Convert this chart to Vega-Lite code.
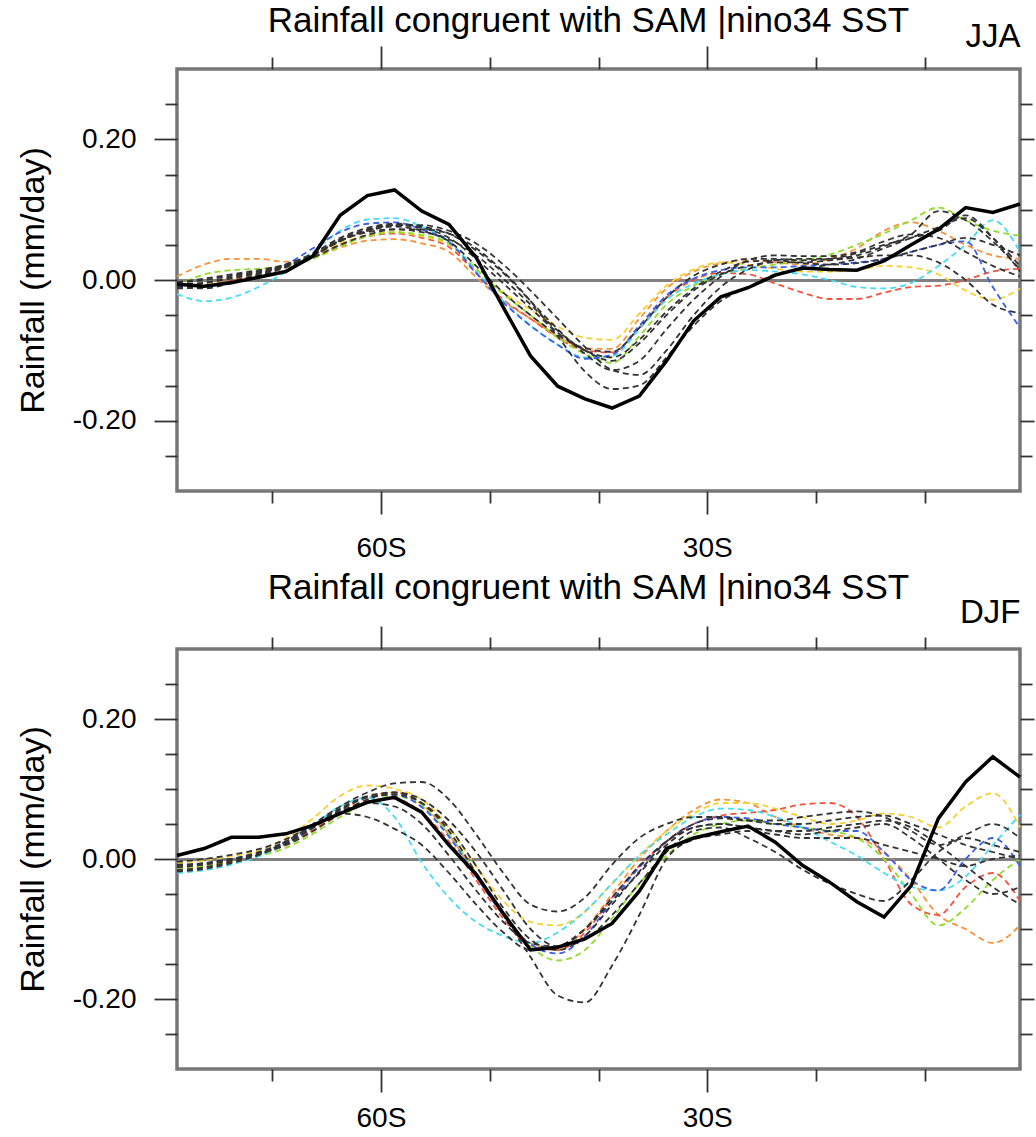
{
  "$schema": "https://vega.github.io/schema/vega-lite/v6.json",
  "padding": {"left": 14, "top": 2, "right": 0, "bottom": 0},
  "spacing": 5,
  "config": {
    "font": "Liberation Sans",
    "view": {"stroke": "#777777", "strokeWidth": 3.5},
    "axis": {"domain": false, "grid": false, "tickColor": "#333333", "tickWidth": 1.8, "labelColor": "#000000", "labelFontSize": 28, "labelFont": "Liberation Sans", "titleColor": "#000000", "titleFont": "Liberation Sans", "titleFontWeight": "normal", "labelOverlap": false, "labelFlush": false},
    "title": {"fontSize": 35, "fontWeight": "normal", "color": "#000000", "font": "Liberation Sans"},
    "line": {"clip": true}
  },
  "vconcat": [
    {
      "width": 843,
      "height": 422,
      "data": {"name": "jja"},
      "title": {"text": "Rainfall congruent with SAM |nino34 SST", "dx": -10, "offset": -19},
      "layer": [
        {
          "transform": [{"filter": "datum.model !== 'obs'"}],
          "mark": {"type": "line", "strokeWidth": 1.8, "strokeDash": [6, 4], "interpolate": "monotone"},
          "encoding": {
            "x": {"field": "lat", "type": "quantitative", "scale": {"domain": [-78.75, -1.25], "nice": false, "zero": false},
              "axis": {"orient": "bottom", "values": [-70, -60, -50, -40, -30, -20, -10], "title": null,
                "tickSize": {"condition": {"test": "datum.value % 30 === 0", "value": 23}, "value": 12},
                "labelExpr": "datum.value === -60 ? '60S' : datum.value === -30 ? '30S' : ''", "labelPadding": 20}},
            "y": {"field": "rain", "type": "quantitative", "scale": {"domain": [-0.3, 0.3], "nice": false, "zero": false},
              "axis": {"orient": "left", "values": [-0.25, -0.2, -0.15, -0.1, -0.05, 0, 0.05, 0.1, 0.15, 0.2, 0.25],
                "title": "Rainfall (mm/day)", "titleFontSize": 34, "titlePadding": 22,
                "tickSize": {"condition": {"test": "abs(round(datum.value * 100)) % 20 === 0", "value": 23}, "value": 12},
                "labelExpr": "abs(round(datum.value * 100)) % 20 === 0 ? (datum.value < -0.01 ? '-0.20' : datum.value > 0.01 ? '0.20' : '0.00') : ''",
                "labelPadding": 18,
                "grid": true, "gridColor": "#808080", "gridWidth": 3,
                "gridOpacity": {"condition": {"test": "abs(datum.value) < 0.001", "value": 1}, "value": 0}}},
            "color": {"field": "model", "type": "nominal", "legend": null,
              "scale": {"domain": ["o1", "r1", "y1", "g1", "c1", "b1", "k1", "k2", "k3", "k4", "k5", "k6"],
                "range": ["#f7923a", "#f4543e", "#f9cf2f", "#8fdc2a", "#46dcf5", "#3a5ef0", "#333333", "#333333", "#333333", "#333333", "#333333", "#333333"]}}
          }
        },
        {
          "transform": [{"filter": "datum.model === 'obs'"}],
          "mark": {"type": "line", "color": "#000000", "strokeWidth": 3.5},
          "encoding": {
            "x": {"field": "lat", "type": "quantitative",
              "axis": {"orient": "top", "values": [-70, -60, -50, -40, -30, -20, -10], "labels": false,
                "tickSize": {"condition": {"test": "datum.value % 30 === 0", "value": 23}, "value": 12},
                "title": "JJA", "titleFontSize": 33, "titleAnchor": "end", "titleAlign": "right", "titleBaseline": "alphabetic", "titleY": -23}},
            "y": {"field": "rain", "type": "quantitative",
              "axis": {"orient": "right", "values": [-0.25, -0.2, -0.15, -0.1, -0.05, 0, 0.05, 0.1, 0.15, 0.2, 0.25], "labels": false, "title": null,
                "tickSize": {"condition": {"test": "abs(round(datum.value * 100)) % 20 === 0", "value": 14}, "value": 12}}}
          }
        }
      ],
      "resolve": {"axis": {"x": "independent", "y": "independent"}}
    },
    {
      "width": 843,
      "height": 420,
      "data": {"name": "djf"},
      "title": {"text": "Rainfall congruent with SAM |nino34 SST", "dx": -10, "offset": -10},
      "layer": [
        {
          "transform": [{"filter": "datum.model !== 'obs'"}],
          "mark": {"type": "line", "strokeWidth": 1.8, "strokeDash": [6, 4], "interpolate": "monotone"},
          "encoding": {
            "x": {"field": "lat", "type": "quantitative", "scale": {"domain": [-78.75, -1.25], "nice": false, "zero": false},
              "axis": {"orient": "bottom", "values": [-70, -60, -50, -40, -30, -20, -10], "title": null,
                "tickSize": {"condition": {"test": "datum.value % 30 === 0", "value": 23}, "value": 12},
                "labelExpr": "datum.value === -60 ? '60S' : datum.value === -30 ? '30S' : ''", "labelPadding": 12}},
            "y": {"field": "rain", "type": "quantitative", "scale": {"domain": [-0.3, 0.3], "nice": false, "zero": false},
              "axis": {"orient": "left", "values": [-0.25, -0.2, -0.15, -0.1, -0.05, 0, 0.05, 0.1, 0.15, 0.2, 0.25],
                "title": "Rainfall (mm/day)", "titleFontSize": 34, "titlePadding": 22,
                "tickSize": {"condition": {"test": "abs(round(datum.value * 100)) % 20 === 0", "value": 23}, "value": 12},
                "labelExpr": "abs(round(datum.value * 100)) % 20 === 0 ? (datum.value < -0.01 ? '-0.20' : datum.value > 0.01 ? '0.20' : '0.00') : ''",
                "labelPadding": 18,
                "grid": true, "gridColor": "#808080", "gridWidth": 3,
                "gridOpacity": {"condition": {"test": "abs(datum.value) < 0.001", "value": 1}, "value": 0}}},
            "color": {"field": "model", "type": "nominal", "legend": null,
              "scale": {"domain": ["o1", "r1", "y1", "g1", "c1", "b1", "k1", "k2", "k3", "k4", "k5", "k6"],
                "range": ["#f7923a", "#f4543e", "#f9cf2f", "#8fdc2a", "#46dcf5", "#3a5ef0", "#333333", "#333333", "#333333", "#333333", "#333333", "#333333"]}}
          }
        },
        {
          "transform": [{"filter": "datum.model === 'obs'"}],
          "mark": {"type": "line", "color": "#000000", "strokeWidth": 3.5},
          "encoding": {
            "x": {"field": "lat", "type": "quantitative",
              "axis": {"orient": "top", "values": [-70, -60, -50, -40, -30, -20, -10], "labels": false,
                "tickSize": {"condition": {"test": "datum.value % 30 === 0", "value": 23}, "value": 12},
                "title": "DJF", "titleFontSize": 33, "titleAnchor": "end", "titleAlign": "right", "titleBaseline": "alphabetic", "titleY": -27}},
            "y": {"field": "rain", "type": "quantitative",
              "axis": {"orient": "right", "values": [-0.25, -0.2, -0.15, -0.1, -0.05, 0, 0.05, 0.1, 0.15, 0.2, 0.25], "labels": false, "title": null,
                "tickSize": {"condition": {"test": "abs(round(datum.value * 100)) % 20 === 0", "value": 14}, "value": 12}}}
          }
        }
      ],
      "resolve": {"axis": {"x": "independent", "y": "independent"}}
    }
  ],
  "datasets": {
    "jja": [
      {"model":"obs","lat":-78.75,"rain":-0.006},{"model":"obs","lat":-76.25,"rain":-0.009},{"model":"obs","lat":-73.75,"rain":-0.004},{"model":"obs","lat":-71.25,"rain":0.004},{"model":"obs","lat":-68.75,"rain":0.012},{"model":"obs","lat":-66.25,"rain":0.034},{"model":"obs","lat":-63.75,"rain":0.092},{"model":"obs","lat":-61.25,"rain":0.12},{"model":"obs","lat":-58.75,"rain":0.128},{"model":"obs","lat":-56.25,"rain":0.098},{"model":"obs","lat":-53.75,"rain":0.079},{"model":"obs","lat":-51.25,"rain":0.032},{"model":"obs","lat":-48.75,"rain":-0.039},{"model":"obs","lat":-46.25,"rain":-0.108},{"model":"obs","lat":-43.75,"rain":-0.151},{"model":"obs","lat":-41.25,"rain":-0.169},{"model":"obs","lat":-38.75,"rain":-0.182},{"model":"obs","lat":-36.25,"rain":-0.165},{"model":"obs","lat":-33.75,"rain":-0.115},{"model":"obs","lat":-31.25,"rain":-0.058},{"model":"obs","lat":-28.75,"rain":-0.024},{"model":"obs","lat":-26.25,"rain":-0.011},{"model":"obs","lat":-23.75,"rain":0.007},{"model":"obs","lat":-21.25,"rain":0.017},{"model":"obs","lat":-18.75,"rain":0.015},{"model":"obs","lat":-16.25,"rain":0.014},{"model":"obs","lat":-13.75,"rain":0.027},{"model":"obs","lat":-11.25,"rain":0.05},{"model":"obs","lat":-8.75,"rain":0.072},{"model":"obs","lat":-6.25,"rain":0.103},{"model":"obs","lat":-3.75,"rain":0.096},{"model":"obs","lat":-1.25,"rain":0.108},
      {"model":"o1","lat":-78.75,"rain":0.005},{"model":"o1","lat":-76.25,"rain":0.022},{"model":"o1","lat":-73.75,"rain":0.03},{"model":"o1","lat":-71.25,"rain":0.03},{"model":"o1","lat":-68.75,"rain":0.026},{"model":"o1","lat":-66.25,"rain":0.032},{"model":"o1","lat":-63.75,"rain":0.046},{"model":"o1","lat":-61.25,"rain":0.056},{"model":"o1","lat":-58.75,"rain":0.058},{"model":"o1","lat":-56.25,"rain":0.052},{"model":"o1","lat":-53.75,"rain":0.04},{"model":"o1","lat":-51.25,"rain":0.004},{"model":"o1","lat":-48.75,"rain":-0.03},{"model":"o1","lat":-46.25,"rain":-0.055},{"model":"o1","lat":-43.75,"rain":-0.08},{"model":"o1","lat":-41.25,"rain":-0.097},{"model":"o1","lat":-38.75,"rain":-0.098},{"model":"o1","lat":-36.25,"rain":-0.055},{"model":"o1","lat":-33.75,"rain":-0.012},{"model":"o1","lat":-31.25,"rain":0.012},{"model":"o1","lat":-28.75,"rain":0.024},{"model":"o1","lat":-26.25,"rain":0.028},{"model":"o1","lat":-23.75,"rain":0.025},{"model":"o1","lat":-21.25,"rain":0.022},{"model":"o1","lat":-18.75,"rain":0.03},{"model":"o1","lat":-16.25,"rain":0.045},{"model":"o1","lat":-13.75,"rain":0.07},{"model":"o1","lat":-11.25,"rain":0.082},{"model":"o1","lat":-8.75,"rain":0.07},{"model":"o1","lat":-6.25,"rain":0.05},{"model":"o1","lat":-3.75,"rain":0.035},{"model":"o1","lat":-1.25,"rain":0.03},
      {"model":"r1","lat":-78.75,"rain":-0.01},{"model":"r1","lat":-76.25,"rain":-0.008},{"model":"r1","lat":-73.75,"rain":0.0},{"model":"r1","lat":-71.25,"rain":0.008},{"model":"r1","lat":-68.75,"rain":0.018},{"model":"r1","lat":-66.25,"rain":0.033},{"model":"r1","lat":-63.75,"rain":0.05},{"model":"r1","lat":-61.25,"rain":0.062},{"model":"r1","lat":-58.75,"rain":0.066},{"model":"r1","lat":-56.25,"rain":0.06},{"model":"r1","lat":-53.75,"rain":0.047},{"model":"r1","lat":-51.25,"rain":0.01},{"model":"r1","lat":-48.75,"rain":-0.028},{"model":"r1","lat":-46.25,"rain":-0.055},{"model":"r1","lat":-43.75,"rain":-0.082},{"model":"r1","lat":-41.25,"rain":-0.1},{"model":"r1","lat":-38.75,"rain":-0.103},{"model":"r1","lat":-36.25,"rain":-0.068},{"model":"r1","lat":-33.75,"rain":-0.025},{"model":"r1","lat":-31.25,"rain":0.0},{"model":"r1","lat":-28.75,"rain":0.01},{"model":"r1","lat":-26.25,"rain":0.008},{"model":"r1","lat":-23.75,"rain":-0.005},{"model":"r1","lat":-21.25,"rain":-0.018},{"model":"r1","lat":-18.75,"rain":-0.027},{"model":"r1","lat":-16.25,"rain":-0.027},{"model":"r1","lat":-13.75,"rain":-0.018},{"model":"r1","lat":-11.25,"rain":-0.01},{"model":"r1","lat":-8.75,"rain":-0.008},{"model":"r1","lat":-6.25,"rain":0.0},{"model":"r1","lat":-3.75,"rain":0.012},{"model":"r1","lat":-1.25,"rain":0.016},
      {"model":"y1","lat":-78.75,"rain":-0.012},{"model":"y1","lat":-76.25,"rain":-0.006},{"model":"y1","lat":-73.75,"rain":0.002},{"model":"y1","lat":-71.25,"rain":0.01},{"model":"y1","lat":-68.75,"rain":0.018},{"model":"y1","lat":-66.25,"rain":0.034},{"model":"y1","lat":-63.75,"rain":0.052},{"model":"y1","lat":-61.25,"rain":0.064},{"model":"y1","lat":-58.75,"rain":0.068},{"model":"y1","lat":-56.25,"rain":0.062},{"model":"y1","lat":-53.75,"rain":0.05},{"model":"y1","lat":-51.25,"rain":0.015},{"model":"y1","lat":-48.75,"rain":-0.018},{"model":"y1","lat":-46.25,"rain":-0.042},{"model":"y1","lat":-43.75,"rain":-0.066},{"model":"y1","lat":-41.25,"rain":-0.082},{"model":"y1","lat":-38.75,"rain":-0.085},{"model":"y1","lat":-36.25,"rain":-0.048},{"model":"y1","lat":-33.75,"rain":-0.008},{"model":"y1","lat":-31.25,"rain":0.015},{"model":"y1","lat":-28.75,"rain":0.025},{"model":"y1","lat":-26.25,"rain":0.022},{"model":"y1","lat":-23.75,"rain":0.016},{"model":"y1","lat":-21.25,"rain":0.012},{"model":"y1","lat":-18.75,"rain":0.012},{"model":"y1","lat":-16.25,"rain":0.014},{"model":"y1","lat":-13.75,"rain":0.02},{"model":"y1","lat":-11.25,"rain":0.018},{"model":"y1","lat":-8.75,"rain":0.008},{"model":"y1","lat":-6.25,"rain":-0.015},{"model":"y1","lat":-3.75,"rain":-0.028},{"model":"y1","lat":-1.25,"rain":-0.012},
      {"model":"g1","lat":-78.75,"rain":-0.008},{"model":"g1","lat":-76.25,"rain":0.008},{"model":"g1","lat":-73.75,"rain":0.014},{"model":"g1","lat":-71.25,"rain":0.016},{"model":"g1","lat":-68.75,"rain":0.02},{"model":"g1","lat":-66.25,"rain":0.03},{"model":"g1","lat":-63.75,"rain":0.048},{"model":"g1","lat":-61.25,"rain":0.062},{"model":"g1","lat":-58.75,"rain":0.068},{"model":"g1","lat":-56.25,"rain":0.064},{"model":"g1","lat":-53.75,"rain":0.052},{"model":"g1","lat":-51.25,"rain":0.016},{"model":"g1","lat":-48.75,"rain":-0.02},{"model":"g1","lat":-46.25,"rain":-0.05},{"model":"g1","lat":-43.75,"rain":-0.082},{"model":"g1","lat":-41.25,"rain":-0.105},{"model":"g1","lat":-38.75,"rain":-0.118},{"model":"g1","lat":-36.25,"rain":-0.08},{"model":"g1","lat":-33.75,"rain":-0.035},{"model":"g1","lat":-31.25,"rain":-0.008},{"model":"g1","lat":-28.75,"rain":0.008},{"model":"g1","lat":-26.25,"rain":0.016},{"model":"g1","lat":-23.75,"rain":0.022},{"model":"g1","lat":-21.25,"rain":0.028},{"model":"g1","lat":-18.75,"rain":0.036},{"model":"g1","lat":-16.25,"rain":0.05},{"model":"g1","lat":-13.75,"rain":0.066},{"model":"g1","lat":-11.25,"rain":0.085},{"model":"g1","lat":-8.75,"rain":0.103},{"model":"g1","lat":-6.25,"rain":0.085},{"model":"g1","lat":-3.75,"rain":0.07},{"model":"g1","lat":-1.25,"rain":0.063},
      {"model":"c1","lat":-78.75,"rain":-0.02},{"model":"c1","lat":-76.25,"rain":-0.03},{"model":"c1","lat":-73.75,"rain":-0.025},{"model":"c1","lat":-71.25,"rain":-0.01},{"model":"c1","lat":-68.75,"rain":0.012},{"model":"c1","lat":-66.25,"rain":0.04},{"model":"c1","lat":-63.75,"rain":0.07},{"model":"c1","lat":-61.25,"rain":0.086},{"model":"c1","lat":-58.75,"rain":0.088},{"model":"c1","lat":-56.25,"rain":0.076},{"model":"c1","lat":-53.75,"rain":0.055},{"model":"c1","lat":-51.25,"rain":0.012},{"model":"c1","lat":-48.75,"rain":-0.03},{"model":"c1","lat":-46.25,"rain":-0.065},{"model":"c1","lat":-43.75,"rain":-0.092},{"model":"c1","lat":-41.25,"rain":-0.11},{"model":"c1","lat":-38.75,"rain":-0.108},{"model":"c1","lat":-36.25,"rain":-0.07},{"model":"c1","lat":-33.75,"rain":-0.028},{"model":"c1","lat":-31.25,"rain":-0.005},{"model":"c1","lat":-28.75,"rain":0.008},{"model":"c1","lat":-26.25,"rain":0.014},{"model":"c1","lat":-23.75,"rain":0.012},{"model":"c1","lat":-21.25,"rain":0.008},{"model":"c1","lat":-18.75,"rain":0.0},{"model":"c1","lat":-16.25,"rain":-0.01},{"model":"c1","lat":-13.75,"rain":-0.012},{"model":"c1","lat":-11.25,"rain":-0.004},{"model":"c1","lat":-8.75,"rain":0.02},{"model":"c1","lat":-6.25,"rain":0.05},{"model":"c1","lat":-3.75,"rain":0.085},{"model":"c1","lat":-1.25,"rain":0.04},
      {"model":"b1","lat":-78.75,"rain":-0.008},{"model":"b1","lat":-76.25,"rain":-0.01},{"model":"b1","lat":-73.75,"rain":-0.004},{"model":"b1","lat":-71.25,"rain":0.008},{"model":"b1","lat":-68.75,"rain":0.022},{"model":"b1","lat":-66.25,"rain":0.045},{"model":"b1","lat":-63.75,"rain":0.068},{"model":"b1","lat":-61.25,"rain":0.08},{"model":"b1","lat":-58.75,"rain":0.082},{"model":"b1","lat":-56.25,"rain":0.072},{"model":"b1","lat":-53.75,"rain":0.054},{"model":"b1","lat":-51.25,"rain":0.01},{"model":"b1","lat":-48.75,"rain":-0.032},{"model":"b1","lat":-46.25,"rain":-0.065},{"model":"b1","lat":-43.75,"rain":-0.092},{"model":"b1","lat":-41.25,"rain":-0.112},{"model":"b1","lat":-38.75,"rain":-0.106},{"model":"b1","lat":-36.25,"rain":-0.065},{"model":"b1","lat":-33.75,"rain":-0.022},{"model":"b1","lat":-31.25,"rain":0.002},{"model":"b1","lat":-28.75,"rain":0.014},{"model":"b1","lat":-26.25,"rain":0.018},{"model":"b1","lat":-23.75,"rain":0.018},{"model":"b1","lat":-21.25,"rain":0.02},{"model":"b1","lat":-18.75,"rain":0.022},{"model":"b1","lat":-16.25,"rain":0.025},{"model":"b1","lat":-13.75,"rain":0.03},{"model":"b1","lat":-11.25,"rain":0.04},{"model":"b1","lat":-8.75,"rain":0.05},{"model":"b1","lat":-6.25,"rain":0.055},{"model":"b1","lat":-3.75,"rain":-0.01},{"model":"b1","lat":-1.25,"rain":-0.068},
      {"model":"k1","lat":-78.75,"rain":-0.004},{"model":"k1","lat":-76.25,"rain":0.0},{"model":"k1","lat":-73.75,"rain":0.006},{"model":"k1","lat":-71.25,"rain":0.012},{"model":"k1","lat":-68.75,"rain":0.02},{"model":"k1","lat":-66.25,"rain":0.032},{"model":"k1","lat":-63.75,"rain":0.05},{"model":"k1","lat":-61.25,"rain":0.064},{"model":"k1","lat":-58.75,"rain":0.072},{"model":"k1","lat":-56.25,"rain":0.072},{"model":"k1","lat":-53.75,"rain":0.066},{"model":"k1","lat":-51.25,"rain":0.045},{"model":"k1","lat":-48.75,"rain":0.012},{"model":"k1","lat":-46.25,"rain":-0.03},{"model":"k1","lat":-43.75,"rain":-0.08},{"model":"k1","lat":-41.25,"rain":-0.13},{"model":"k1","lat":-38.75,"rain":-0.155},{"model":"k1","lat":-36.25,"rain":-0.15},{"model":"k1","lat":-33.75,"rain":-0.11},{"model":"k1","lat":-31.25,"rain":-0.065},{"model":"k1","lat":-28.75,"rain":-0.03},{"model":"k1","lat":-26.25,"rain":-0.01},{"model":"k1","lat":-23.75,"rain":0.008},{"model":"k1","lat":-21.25,"rain":0.015},{"model":"k1","lat":-18.75,"rain":0.022},{"model":"k1","lat":-16.25,"rain":0.03},{"model":"k1","lat":-13.75,"rain":0.045},{"model":"k1","lat":-11.25,"rain":0.06},{"model":"k1","lat":-8.75,"rain":0.075},{"model":"k1","lat":-6.25,"rain":0.088},{"model":"k1","lat":-3.75,"rain":0.06},{"model":"k1","lat":-1.25,"rain":0.02},
      {"model":"k2","lat":-78.75,"rain":-0.006},{"model":"k2","lat":-76.25,"rain":-0.004},{"model":"k2","lat":-73.75,"rain":0.002},{"model":"k2","lat":-71.25,"rain":0.01},{"model":"k2","lat":-68.75,"rain":0.02},{"model":"k2","lat":-66.25,"rain":0.035},{"model":"k2","lat":-63.75,"rain":0.055},{"model":"k2","lat":-61.25,"rain":0.07},{"model":"k2","lat":-58.75,"rain":0.078},{"model":"k2","lat":-56.25,"rain":0.078},{"model":"k2","lat":-53.75,"rain":0.07},{"model":"k2","lat":-51.25,"rain":0.052},{"model":"k2","lat":-48.75,"rain":0.022},{"model":"k2","lat":-46.25,"rain":-0.015},{"model":"k2","lat":-43.75,"rain":-0.055},{"model":"k2","lat":-41.25,"rain":-0.095},{"model":"k2","lat":-38.75,"rain":-0.128},{"model":"k2","lat":-36.25,"rain":-0.135},{"model":"k2","lat":-33.75,"rain":-0.1},{"model":"k2","lat":-31.25,"rain":-0.05},{"model":"k2","lat":-28.75,"rain":-0.01},{"model":"k2","lat":-26.25,"rain":0.015},{"model":"k2","lat":-23.75,"rain":0.028},{"model":"k2","lat":-21.25,"rain":0.03},{"model":"k2","lat":-18.75,"rain":0.03},{"model":"k2","lat":-16.25,"rain":0.035},{"model":"k2","lat":-13.75,"rain":0.048},{"model":"k2","lat":-11.25,"rain":0.065},{"model":"k2","lat":-8.75,"rain":0.098},{"model":"k2","lat":-6.25,"rain":0.085},{"model":"k2","lat":-3.75,"rain":0.055},{"model":"k2","lat":-1.25,"rain":0.015},
      {"model":"k3","lat":-78.75,"rain":-0.01},{"model":"k3","lat":-76.25,"rain":-0.012},{"model":"k3","lat":-73.75,"rain":-0.004},{"model":"k3","lat":-71.25,"rain":0.006},{"model":"k3","lat":-68.75,"rain":0.018},{"model":"k3","lat":-66.25,"rain":0.034},{"model":"k3","lat":-63.75,"rain":0.056},{"model":"k3","lat":-61.25,"rain":0.07},{"model":"k3","lat":-58.75,"rain":0.076},{"model":"k3","lat":-56.25,"rain":0.07},{"model":"k3","lat":-53.75,"rain":0.055},{"model":"k3","lat":-51.25,"rain":0.02},{"model":"k3","lat":-48.75,"rain":-0.018},{"model":"k3","lat":-46.25,"rain":-0.05},{"model":"k3","lat":-43.75,"rain":-0.078},{"model":"k3","lat":-41.25,"rain":-0.097},{"model":"k3","lat":-38.75,"rain":-0.102},{"model":"k3","lat":-36.25,"rain":-0.068},{"model":"k3","lat":-33.75,"rain":-0.025},{"model":"k3","lat":-31.25,"rain":0.006},{"model":"k3","lat":-28.75,"rain":0.022},{"model":"k3","lat":-26.25,"rain":0.03},{"model":"k3","lat":-23.75,"rain":0.03},{"model":"k3","lat":-21.25,"rain":0.028},{"model":"k3","lat":-18.75,"rain":0.03},{"model":"k3","lat":-16.25,"rain":0.038},{"model":"k3","lat":-13.75,"rain":0.05},{"model":"k3","lat":-11.25,"rain":0.06},{"model":"k3","lat":-8.75,"rain":0.07},{"model":"k3","lat":-6.25,"rain":0.092},{"model":"k3","lat":-3.75,"rain":0.06},{"model":"k3","lat":-1.25,"rain":0.012},
      {"model":"k4","lat":-78.75,"rain":-0.012},{"model":"k4","lat":-76.25,"rain":-0.01},{"model":"k4","lat":-73.75,"rain":-0.002},{"model":"k4","lat":-71.25,"rain":0.008},{"model":"k4","lat":-68.75,"rain":0.02},{"model":"k4","lat":-66.25,"rain":0.035},{"model":"k4","lat":-63.75,"rain":0.058},{"model":"k4","lat":-61.25,"rain":0.072},{"model":"k4","lat":-58.75,"rain":0.078},{"model":"k4","lat":-56.25,"rain":0.074},{"model":"k4","lat":-53.75,"rain":0.06},{"model":"k4","lat":-51.25,"rain":0.03},{"model":"k4","lat":-48.75,"rain":-0.005},{"model":"k4","lat":-46.25,"rain":-0.04},{"model":"k4","lat":-43.75,"rain":-0.075},{"model":"k4","lat":-41.25,"rain":-0.1},{"model":"k4","lat":-38.75,"rain":-0.115},{"model":"k4","lat":-36.25,"rain":-0.09},{"model":"k4","lat":-33.75,"rain":-0.05},{"model":"k4","lat":-31.25,"rain":-0.015},{"model":"k4","lat":-28.75,"rain":0.008},{"model":"k4","lat":-26.25,"rain":0.02},{"model":"k4","lat":-23.75,"rain":0.025},{"model":"k4","lat":-21.25,"rain":0.025},{"model":"k4","lat":-18.75,"rain":0.028},{"model":"k4","lat":-16.25,"rain":0.032},{"model":"k4","lat":-13.75,"rain":0.035},{"model":"k4","lat":-11.25,"rain":0.035},{"model":"k4","lat":-8.75,"rain":0.025},{"model":"k4","lat":-6.25,"rain":0.0},{"model":"k4","lat":-3.75,"rain":-0.035},{"model":"k4","lat":-1.25,"rain":-0.047},
      {"model":"k5","lat":-78.75,"rain":-0.008},{"model":"k5","lat":-76.25,"rain":-0.004},{"model":"k5","lat":-73.75,"rain":0.004},{"model":"k5","lat":-71.25,"rain":0.012},{"model":"k5","lat":-68.75,"rain":0.022},{"model":"k5","lat":-66.25,"rain":0.038},{"model":"k5","lat":-63.75,"rain":0.06},{"model":"k5","lat":-61.25,"rain":0.074},{"model":"k5","lat":-58.75,"rain":0.08},{"model":"k5","lat":-56.25,"rain":0.076},{"model":"k5","lat":-53.75,"rain":0.066},{"model":"k5","lat":-51.25,"rain":0.042},{"model":"k5","lat":-48.75,"rain":0.01},{"model":"k5","lat":-46.25,"rain":-0.03},{"model":"k5","lat":-43.75,"rain":-0.07},{"model":"k5","lat":-41.25,"rain":-0.105},{"model":"k5","lat":-38.75,"rain":-0.128},{"model":"k5","lat":-36.25,"rain":-0.115},{"model":"k5","lat":-33.75,"rain":-0.07},{"model":"k5","lat":-31.25,"rain":-0.028},{"model":"k5","lat":-28.75,"rain":0.005},{"model":"k5","lat":-26.25,"rain":0.028},{"model":"k5","lat":-23.75,"rain":0.035},{"model":"k5","lat":-21.25,"rain":0.034},{"model":"k5","lat":-18.75,"rain":0.034},{"model":"k5","lat":-16.25,"rain":0.04},{"model":"k5","lat":-13.75,"rain":0.055},{"model":"k5","lat":-11.25,"rain":0.065},{"model":"k5","lat":-8.75,"rain":0.06},{"model":"k5","lat":-6.25,"rain":0.04},{"model":"k5","lat":-3.75,"rain":0.02},{"model":"k5","lat":-1.25,"rain":0.005},
      {"model":"k6","lat":-78.75,"rain":-0.003},{"model":"k6","lat":-76.25,"rain":0.002},{"model":"k6","lat":-73.75,"rain":0.008},{"model":"k6","lat":-71.25,"rain":0.014},{"model":"k6","lat":-68.75,"rain":0.022},{"model":"k6","lat":-66.25,"rain":0.036},{"model":"k6","lat":-63.75,"rain":0.056},{"model":"k6","lat":-61.25,"rain":0.068},{"model":"k6","lat":-58.75,"rain":0.072},{"model":"k6","lat":-56.25,"rain":0.068},{"model":"k6","lat":-53.75,"rain":0.058},{"model":"k6","lat":-51.25,"rain":0.035},{"model":"k6","lat":-48.75,"rain":0.002},{"model":"k6","lat":-46.25,"rain":-0.035},{"model":"k6","lat":-43.75,"rain":-0.072},{"model":"k6","lat":-41.25,"rain":-0.1},{"model":"k6","lat":-38.75,"rain":-0.11},{"model":"k6","lat":-36.25,"rain":-0.085},{"model":"k6","lat":-33.75,"rain":-0.045},{"model":"k6","lat":-31.25,"rain":-0.012},{"model":"k6","lat":-28.75,"rain":0.012},{"model":"k6","lat":-26.25,"rain":0.026},{"model":"k6","lat":-23.75,"rain":0.028},{"model":"k6","lat":-21.25,"rain":0.024},{"model":"k6","lat":-18.75,"rain":0.022},{"model":"k6","lat":-16.25,"rain":0.024},{"model":"k6","lat":-13.75,"rain":0.03},{"model":"k6","lat":-11.25,"rain":0.04},{"model":"k6","lat":-8.75,"rain":0.05},{"model":"k6","lat":-6.25,"rain":0.06},{"model":"k6","lat":-3.75,"rain":0.05},{"model":"k6","lat":-1.25,"rain":0.035}
    ],
    "djf": [
      {"model":"obs","lat":-78.75,"rain":0.005},{"model":"obs","lat":-76.25,"rain":0.015},{"model":"obs","lat":-73.75,"rain":0.031},{"model":"obs","lat":-71.25,"rain":0.031},{"model":"obs","lat":-68.75,"rain":0.036},{"model":"obs","lat":-66.25,"rain":0.048},{"model":"obs","lat":-63.75,"rain":0.065},{"model":"obs","lat":-61.25,"rain":0.081},{"model":"obs","lat":-58.75,"rain":0.088},{"model":"obs","lat":-56.25,"rain":0.067},{"model":"obs","lat":-53.75,"rain":0.02},{"model":"obs","lat":-51.25,"rain":-0.022},{"model":"obs","lat":-48.75,"rain":-0.078},{"model":"obs","lat":-46.25,"rain":-0.13},{"model":"obs","lat":-43.75,"rain":-0.126},{"model":"obs","lat":-41.25,"rain":-0.114},{"model":"obs","lat":-38.75,"rain":-0.092},{"model":"obs","lat":-36.25,"rain":-0.046},{"model":"obs","lat":-33.75,"rain":0.015},{"model":"obs","lat":-31.25,"rain":0.03},{"model":"obs","lat":-28.75,"rain":0.039},{"model":"obs","lat":-26.25,"rain":0.047},{"model":"obs","lat":-23.75,"rain":0.024},{"model":"obs","lat":-21.25,"rain":-0.009},{"model":"obs","lat":-18.75,"rain":-0.033},{"model":"obs","lat":-16.25,"rain":-0.061},{"model":"obs","lat":-13.75,"rain":-0.083},{"model":"obs","lat":-11.25,"rain":-0.038},{"model":"obs","lat":-8.75,"rain":0.058},{"model":"obs","lat":-6.25,"rain":0.11},{"model":"obs","lat":-3.75,"rain":0.146},{"model":"obs","lat":-1.25,"rain":0.117},
      {"model":"o1","lat":-78.75,"rain":-0.016},{"model":"o1","lat":-76.25,"rain":-0.012},{"model":"o1","lat":-73.75,"rain":-0.004},{"model":"o1","lat":-71.25,"rain":0.006},{"model":"o1","lat":-68.75,"rain":0.02},{"model":"o1","lat":-66.25,"rain":0.042},{"model":"o1","lat":-63.75,"rain":0.068},{"model":"o1","lat":-61.25,"rain":0.088},{"model":"o1","lat":-58.75,"rain":0.095},{"model":"o1","lat":-56.25,"rain":0.078},{"model":"o1","lat":-53.75,"rain":0.035},{"model":"o1","lat":-51.25,"rain":-0.025},{"model":"o1","lat":-48.75,"rain":-0.08},{"model":"o1","lat":-46.25,"rain":-0.12},{"model":"o1","lat":-43.75,"rain":-0.13},{"model":"o1","lat":-41.25,"rain":-0.1},{"model":"o1","lat":-38.75,"rain":-0.05},{"model":"o1","lat":-36.25,"rain":0.0},{"model":"o1","lat":-33.75,"rain":0.04},{"model":"o1","lat":-31.25,"rain":0.07},{"model":"o1","lat":-28.75,"rain":0.085},{"model":"o1","lat":-26.25,"rain":0.08},{"model":"o1","lat":-23.75,"rain":0.06},{"model":"o1","lat":-21.25,"rain":0.045},{"model":"o1","lat":-18.75,"rain":0.035},{"model":"o1","lat":-16.25,"rain":0.03},{"model":"o1","lat":-13.75,"rain":0.01},{"model":"o1","lat":-11.25,"rain":-0.03},{"model":"o1","lat":-8.75,"rain":-0.08},{"model":"o1","lat":-6.25,"rain":-0.1},{"model":"o1","lat":-3.75,"rain":-0.12},{"model":"o1","lat":-1.25,"rain":-0.095},
      {"model":"r1","lat":-78.75,"rain":-0.014},{"model":"r1","lat":-76.25,"rain":-0.01},{"model":"r1","lat":-73.75,"rain":-0.003},{"model":"r1","lat":-71.25,"rain":0.006},{"model":"r1","lat":-68.75,"rain":0.02},{"model":"r1","lat":-66.25,"rain":0.04},{"model":"r1","lat":-63.75,"rain":0.064},{"model":"r1","lat":-61.25,"rain":0.082},{"model":"r1","lat":-58.75,"rain":0.086},{"model":"r1","lat":-56.25,"rain":0.066},{"model":"r1","lat":-53.75,"rain":0.025},{"model":"r1","lat":-51.25,"rain":-0.03},{"model":"r1","lat":-48.75,"rain":-0.085},{"model":"r1","lat":-46.25,"rain":-0.125},{"model":"r1","lat":-43.75,"rain":-0.13},{"model":"r1","lat":-41.25,"rain":-0.105},{"model":"r1","lat":-38.75,"rain":-0.055},{"model":"r1","lat":-36.25,"rain":-0.01},{"model":"r1","lat":-33.75,"rain":0.025},{"model":"r1","lat":-31.25,"rain":0.05},{"model":"r1","lat":-28.75,"rain":0.062},{"model":"r1","lat":-26.25,"rain":0.066},{"model":"r1","lat":-23.75,"rain":0.07},{"model":"r1","lat":-21.25,"rain":0.078},{"model":"r1","lat":-18.75,"rain":0.08},{"model":"r1","lat":-16.25,"rain":0.06},{"model":"r1","lat":-13.75,"rain":0.0},{"model":"r1","lat":-11.25,"rain":-0.065},{"model":"r1","lat":-8.75,"rain":-0.08},{"model":"r1","lat":-6.25,"rain":-0.04},{"model":"r1","lat":-3.75,"rain":-0.02},{"model":"r1","lat":-1.25,"rain":-0.06},
      {"model":"y1","lat":-78.75,"rain":-0.006},{"model":"y1","lat":-76.25,"rain":-0.002},{"model":"y1","lat":-73.75,"rain":0.004},{"model":"y1","lat":-71.25,"rain":0.012},{"model":"y1","lat":-68.75,"rain":0.03},{"model":"y1","lat":-66.25,"rain":0.058},{"model":"y1","lat":-63.75,"rain":0.09},{"model":"y1","lat":-61.25,"rain":0.105},{"model":"y1","lat":-58.75,"rain":0.1},{"model":"y1","lat":-56.25,"rain":0.085},{"model":"y1","lat":-53.75,"rain":0.045},{"model":"y1","lat":-51.25,"rain":-0.01},{"model":"y1","lat":-48.75,"rain":-0.06},{"model":"y1","lat":-46.25,"rain":-0.09},{"model":"y1","lat":-43.75,"rain":-0.095},{"model":"y1","lat":-41.25,"rain":-0.075},{"model":"y1","lat":-38.75,"rain":-0.035},{"model":"y1","lat":-36.25,"rain":0.005},{"model":"y1","lat":-33.75,"rain":0.04},{"model":"y1","lat":-31.25,"rain":0.065},{"model":"y1","lat":-28.75,"rain":0.08},{"model":"y1","lat":-26.25,"rain":0.08},{"model":"y1","lat":-23.75,"rain":0.072},{"model":"y1","lat":-21.25,"rain":0.06},{"model":"y1","lat":-18.75,"rain":0.05},{"model":"y1","lat":-16.25,"rain":0.055},{"model":"y1","lat":-13.75,"rain":0.065},{"model":"y1","lat":-11.25,"rain":0.06},{"model":"y1","lat":-8.75,"rain":0.045},{"model":"y1","lat":-6.25,"rain":0.075},{"model":"y1","lat":-3.75,"rain":0.094},{"model":"y1","lat":-1.25,"rain":0.045},
      {"model":"g1","lat":-78.75,"rain":-0.014},{"model":"g1","lat":-76.25,"rain":-0.01},{"model":"g1","lat":-73.75,"rain":-0.004},{"model":"g1","lat":-71.25,"rain":0.004},{"model":"g1","lat":-68.75,"rain":0.016},{"model":"g1","lat":-66.25,"rain":0.036},{"model":"g1","lat":-63.75,"rain":0.06},{"model":"g1","lat":-61.25,"rain":0.08},{"model":"g1","lat":-58.75,"rain":0.09},{"model":"g1","lat":-56.25,"rain":0.076},{"model":"g1","lat":-53.75,"rain":0.035},{"model":"g1","lat":-51.25,"rain":-0.02},{"model":"g1","lat":-48.75,"rain":-0.078},{"model":"g1","lat":-46.25,"rain":-0.125},{"model":"g1","lat":-43.75,"rain":-0.145},{"model":"g1","lat":-41.25,"rain":-0.13},{"model":"g1","lat":-38.75,"rain":-0.085},{"model":"g1","lat":-36.25,"rain":-0.035},{"model":"g1","lat":-33.75,"rain":0.005},{"model":"g1","lat":-31.25,"rain":0.035},{"model":"g1","lat":-28.75,"rain":0.05},{"model":"g1","lat":-26.25,"rain":0.055},{"model":"g1","lat":-23.75,"rain":0.05},{"model":"g1","lat":-21.25,"rain":0.045},{"model":"g1","lat":-18.75,"rain":0.04},{"model":"g1","lat":-16.25,"rain":0.03},{"model":"g1","lat":-13.75,"rain":0.0},{"model":"g1","lat":-11.25,"rain":-0.05},{"model":"g1","lat":-8.75,"rain":-0.095},{"model":"g1","lat":-6.25,"rain":-0.07},{"model":"g1","lat":-3.75,"rain":-0.03},{"model":"g1","lat":-1.25,"rain":0.0},
      {"model":"c1","lat":-78.75,"rain":-0.02},{"model":"c1","lat":-76.25,"rain":-0.016},{"model":"c1","lat":-73.75,"rain":-0.008},{"model":"c1","lat":-71.25,"rain":0.004},{"model":"c1","lat":-68.75,"rain":0.022},{"model":"c1","lat":-66.25,"rain":0.048},{"model":"c1","lat":-63.75,"rain":0.075},{"model":"c1","lat":-61.25,"rain":0.088},{"model":"c1","lat":-58.75,"rain":0.06},{"model":"c1","lat":-56.25,"rain":-0.005},{"model":"c1","lat":-53.75,"rain":-0.055},{"model":"c1","lat":-51.25,"rain":-0.09},{"model":"c1","lat":-48.75,"rain":-0.11},{"model":"c1","lat":-46.25,"rain":-0.12},{"model":"c1","lat":-43.75,"rain":-0.105},{"model":"c1","lat":-41.25,"rain":-0.075},{"model":"c1","lat":-38.75,"rain":-0.035},{"model":"c1","lat":-36.25,"rain":0.005},{"model":"c1","lat":-33.75,"rain":0.035},{"model":"c1","lat":-31.25,"rain":0.06},{"model":"c1","lat":-28.75,"rain":0.072},{"model":"c1","lat":-26.25,"rain":0.07},{"model":"c1","lat":-23.75,"rain":0.06},{"model":"c1","lat":-21.25,"rain":0.045},{"model":"c1","lat":-18.75,"rain":0.025},{"model":"c1","lat":-16.25,"rain":0.005},{"model":"c1","lat":-13.75,"rain":-0.02},{"model":"c1","lat":-11.25,"rain":-0.04},{"model":"c1","lat":-8.75,"rain":-0.045},{"model":"c1","lat":-6.25,"rain":-0.025},{"model":"c1","lat":-3.75,"rain":0.02},{"model":"c1","lat":-1.25,"rain":0.063},
      {"model":"b1","lat":-78.75,"rain":-0.01},{"model":"b1","lat":-76.25,"rain":-0.006},{"model":"b1","lat":-73.75,"rain":0.0},{"model":"b1","lat":-71.25,"rain":0.008},{"model":"b1","lat":-68.75,"rain":0.022},{"model":"b1","lat":-66.25,"rain":0.044},{"model":"b1","lat":-63.75,"rain":0.07},{"model":"b1","lat":-61.25,"rain":0.088},{"model":"b1","lat":-58.75,"rain":0.092},{"model":"b1","lat":-56.25,"rain":0.074},{"model":"b1","lat":-53.75,"rain":0.032},{"model":"b1","lat":-51.25,"rain":-0.025},{"model":"b1","lat":-48.75,"rain":-0.08},{"model":"b1","lat":-46.25,"rain":-0.122},{"model":"b1","lat":-43.75,"rain":-0.135},{"model":"b1","lat":-41.25,"rain":-0.11},{"model":"b1","lat":-38.75,"rain":-0.06},{"model":"b1","lat":-36.25,"rain":-0.012},{"model":"b1","lat":-33.75,"rain":0.025},{"model":"b1","lat":-31.25,"rain":0.05},{"model":"b1","lat":-28.75,"rain":0.06},{"model":"b1","lat":-26.25,"rain":0.058},{"model":"b1","lat":-23.75,"rain":0.05},{"model":"b1","lat":-21.25,"rain":0.045},{"model":"b1","lat":-18.75,"rain":0.04},{"model":"b1","lat":-16.25,"rain":0.04},{"model":"b1","lat":-13.75,"rain":0.01},{"model":"b1","lat":-11.25,"rain":-0.03},{"model":"b1","lat":-8.75,"rain":-0.045},{"model":"b1","lat":-6.25,"rain":0.0},{"model":"b1","lat":-3.75,"rain":0.03},{"model":"b1","lat":-1.25,"rain":-0.01},
      {"model":"k1","lat":-78.75,"rain":-0.008},{"model":"k1","lat":-76.25,"rain":-0.006},{"model":"k1","lat":-73.75,"rain":0.0},{"model":"k1","lat":-71.25,"rain":0.01},{"model":"k1","lat":-68.75,"rain":0.025},{"model":"k1","lat":-66.25,"rain":0.048},{"model":"k1","lat":-63.75,"rain":0.072},{"model":"k1","lat":-61.25,"rain":0.09},{"model":"k1","lat":-58.75,"rain":0.095},{"model":"k1","lat":-56.25,"rain":0.08},{"model":"k1","lat":-53.75,"rain":0.04},{"model":"k1","lat":-51.25,"rain":-0.02},{"model":"k1","lat":-48.75,"rain":-0.08},{"model":"k1","lat":-46.25,"rain":-0.14},{"model":"k1","lat":-43.75,"rain":-0.195},{"model":"k1","lat":-41.25,"rain":-0.205},{"model":"k1","lat":-38.75,"rain":-0.152},{"model":"k1","lat":-36.25,"rain":-0.08},{"model":"k1","lat":-33.75,"rain":0.0},{"model":"k1","lat":-31.25,"rain":0.028},{"model":"k1","lat":-28.75,"rain":0.035},{"model":"k1","lat":-26.25,"rain":0.04},{"model":"k1","lat":-23.75,"rain":0.035},{"model":"k1","lat":-21.25,"rain":0.03},{"model":"k1","lat":-18.75,"rain":0.03},{"model":"k1","lat":-16.25,"rain":0.03},{"model":"k1","lat":-13.75,"rain":0.02},{"model":"k1","lat":-11.25,"rain":0.01},{"model":"k1","lat":-8.75,"rain":0.0},{"model":"k1","lat":-6.25,"rain":-0.01},{"model":"k1","lat":-3.75,"rain":0.0},{"model":"k1","lat":-1.25,"rain":0.005},
      {"model":"k2","lat":-78.75,"rain":-0.004},{"model":"k2","lat":-76.25,"rain":0.0},{"model":"k2","lat":-73.75,"rain":0.006},{"model":"k2","lat":-71.25,"rain":0.014},{"model":"k2","lat":-68.75,"rain":0.028},{"model":"k2","lat":-66.25,"rain":0.05},{"model":"k2","lat":-63.75,"rain":0.075},{"model":"k2","lat":-61.25,"rain":0.095},{"model":"k2","lat":-58.75,"rain":0.108},{"model":"k2","lat":-56.25,"rain":0.11},{"model":"k2","lat":-53.75,"rain":0.085},{"model":"k2","lat":-51.25,"rain":0.035},{"model":"k2","lat":-48.75,"rain":-0.02},{"model":"k2","lat":-46.25,"rain":-0.065},{"model":"k2","lat":-43.75,"rain":-0.075},{"model":"k2","lat":-41.25,"rain":-0.055},{"model":"k2","lat":-38.75,"rain":-0.008},{"model":"k2","lat":-36.25,"rain":0.03},{"model":"k2","lat":-33.75,"rain":0.05},{"model":"k2","lat":-31.25,"rain":0.06},{"model":"k2","lat":-28.75,"rain":0.06},{"model":"k2","lat":-26.25,"rain":0.055},{"model":"k2","lat":-23.75,"rain":0.05},{"model":"k2","lat":-21.25,"rain":0.05},{"model":"k2","lat":-18.75,"rain":0.055},{"model":"k2","lat":-16.25,"rain":0.06},{"model":"k2","lat":-13.75,"rain":0.062},{"model":"k2","lat":-11.25,"rain":0.05},{"model":"k2","lat":-8.75,"rain":0.035},{"model":"k2","lat":-6.25,"rain":0.02},{"model":"k2","lat":-3.75,"rain":0.01},{"model":"k2","lat":-1.25,"rain":0.0},
      {"model":"k3","lat":-78.75,"rain":-0.018},{"model":"k3","lat":-76.25,"rain":-0.014},{"model":"k3","lat":-73.75,"rain":-0.006},{"model":"k3","lat":-71.25,"rain":0.006},{"model":"k3","lat":-68.75,"rain":0.025},{"model":"k3","lat":-66.25,"rain":0.048},{"model":"k3","lat":-63.75,"rain":0.065},{"model":"k3","lat":-61.25,"rain":0.06},{"model":"k3","lat":-58.75,"rain":0.043},{"model":"k3","lat":-56.25,"rain":0.02},{"model":"k3","lat":-53.75,"rain":-0.02},{"model":"k3","lat":-51.25,"rain":-0.065},{"model":"k3","lat":-48.75,"rain":-0.105},{"model":"k3","lat":-46.25,"rain":-0.13},{"model":"k3","lat":-43.75,"rain":-0.125},{"model":"k3","lat":-41.25,"rain":-0.1},{"model":"k3","lat":-38.75,"rain":-0.06},{"model":"k3","lat":-36.25,"rain":-0.02},{"model":"k3","lat":-33.75,"rain":0.02},{"model":"k3","lat":-31.25,"rain":0.045},{"model":"k3","lat":-28.75,"rain":0.05},{"model":"k3","lat":-26.25,"rain":0.045},{"model":"k3","lat":-23.75,"rain":0.04},{"model":"k3","lat":-21.25,"rain":0.04},{"model":"k3","lat":-18.75,"rain":0.045},{"model":"k3","lat":-16.25,"rain":0.05},{"model":"k3","lat":-13.75,"rain":0.055},{"model":"k3","lat":-11.25,"rain":0.045},{"model":"k3","lat":-8.75,"rain":0.02},{"model":"k3","lat":-6.25,"rain":-0.01},{"model":"k3","lat":-3.75,"rain":-0.04},{"model":"k3","lat":-1.25,"rain":-0.065},
      {"model":"k4","lat":-78.75,"rain":-0.01},{"model":"k4","lat":-76.25,"rain":-0.006},{"model":"k4","lat":-73.75,"rain":0.0},{"model":"k4","lat":-71.25,"rain":0.008},{"model":"k4","lat":-68.75,"rain":0.02},{"model":"k4","lat":-66.25,"rain":0.04},{"model":"k4","lat":-63.75,"rain":0.065},{"model":"k4","lat":-61.25,"rain":0.085},{"model":"k4","lat":-58.75,"rain":0.095},{"model":"k4","lat":-56.25,"rain":0.085},{"model":"k4","lat":-53.75,"rain":0.055},{"model":"k4","lat":-51.25,"rain":0.01},{"model":"k4","lat":-48.75,"rain":-0.045},{"model":"k4","lat":-46.25,"rain":-0.1},{"model":"k4","lat":-43.75,"rain":-0.125},{"model":"k4","lat":-41.25,"rain":-0.115},{"model":"k4","lat":-38.75,"rain":-0.08},{"model":"k4","lat":-36.25,"rain":-0.035},{"model":"k4","lat":-33.75,"rain":0.01},{"model":"k4","lat":-31.25,"rain":0.04},{"model":"k4","lat":-28.75,"rain":0.045},{"model":"k4","lat":-26.25,"rain":0.03},{"model":"k4","lat":-23.75,"rain":0.01},{"model":"k4","lat":-21.25,"rain":-0.015},{"model":"k4","lat":-18.75,"rain":-0.035},{"model":"k4","lat":-16.25,"rain":-0.05},{"model":"k4","lat":-13.75,"rain":-0.06},{"model":"k4","lat":-11.25,"rain":-0.03},{"model":"k4","lat":-8.75,"rain":0.01},{"model":"k4","lat":-6.25,"rain":0.03},{"model":"k4","lat":-3.75,"rain":0.02},{"model":"k4","lat":-1.25,"rain":0.01},
      {"model":"k5","lat":-78.75,"rain":-0.012},{"model":"k5","lat":-76.25,"rain":-0.008},{"model":"k5","lat":-73.75,"rain":-0.002},{"model":"k5","lat":-71.25,"rain":0.008},{"model":"k5","lat":-68.75,"rain":0.022},{"model":"k5","lat":-66.25,"rain":0.045},{"model":"k5","lat":-63.75,"rain":0.07},{"model":"k5","lat":-61.25,"rain":0.088},{"model":"k5","lat":-58.75,"rain":0.092},{"model":"k5","lat":-56.25,"rain":0.08},{"model":"k5","lat":-53.75,"rain":0.045},{"model":"k5","lat":-51.25,"rain":-0.01},{"model":"k5","lat":-48.75,"rain":-0.07},{"model":"k5","lat":-46.25,"rain":-0.115},{"model":"k5","lat":-43.75,"rain":-0.13},{"model":"k5","lat":-41.25,"rain":-0.11},{"model":"k5","lat":-38.75,"rain":-0.065},{"model":"k5","lat":-36.25,"rain":-0.018},{"model":"k5","lat":-33.75,"rain":0.025},{"model":"k5","lat":-31.25,"rain":0.05},{"model":"k5","lat":-28.75,"rain":0.058},{"model":"k5","lat":-26.25,"rain":0.055},{"model":"k5","lat":-23.75,"rain":0.055},{"model":"k5","lat":-21.25,"rain":0.06},{"model":"k5","lat":-18.75,"rain":0.065},{"model":"k5","lat":-16.25,"rain":0.068},{"model":"k5","lat":-13.75,"rain":0.06},{"model":"k5","lat":-11.25,"rain":0.04},{"model":"k5","lat":-8.75,"rain":0.02},{"model":"k5","lat":-6.25,"rain":0.035},{"model":"k5","lat":-3.75,"rain":0.05},{"model":"k5","lat":-1.25,"rain":0.03},
      {"model":"k6","lat":-78.75,"rain":-0.016},{"model":"k6","lat":-76.25,"rain":-0.012},{"model":"k6","lat":-73.75,"rain":-0.004},{"model":"k6","lat":-71.25,"rain":0.006},{"model":"k6","lat":-68.75,"rain":0.022},{"model":"k6","lat":-66.25,"rain":0.045},{"model":"k6","lat":-63.75,"rain":0.068},{"model":"k6","lat":-61.25,"rain":0.08},{"model":"k6","lat":-58.75,"rain":0.075},{"model":"k6","lat":-56.25,"rain":0.05},{"model":"k6","lat":-53.75,"rain":0.005},{"model":"k6","lat":-51.25,"rain":-0.045},{"model":"k6","lat":-48.75,"rain":-0.09},{"model":"k6","lat":-46.25,"rain":-0.12},{"model":"k6","lat":-43.75,"rain":-0.125},{"model":"k6","lat":-41.25,"rain":-0.1},{"model":"k6","lat":-38.75,"rain":-0.055},{"model":"k6","lat":-36.25,"rain":-0.01},{"model":"k6","lat":-33.75,"rain":0.025},{"model":"k6","lat":-31.25,"rain":0.045},{"model":"k6","lat":-28.75,"rain":0.05},{"model":"k6","lat":-26.25,"rain":0.045},{"model":"k6","lat":-23.75,"rain":0.04},{"model":"k6","lat":-21.25,"rain":0.035},{"model":"k6","lat":-18.75,"rain":0.04},{"model":"k6","lat":-16.25,"rain":0.045},{"model":"k6","lat":-13.75,"rain":0.05},{"model":"k6","lat":-11.25,"rain":0.03},{"model":"k6","lat":-8.75,"rain":0.0},{"model":"k6","lat":-6.25,"rain":-0.03},{"model":"k6","lat":-3.75,"rain":-0.05},{"model":"k6","lat":-1.25,"rain":-0.04}
    ]
  }
}
